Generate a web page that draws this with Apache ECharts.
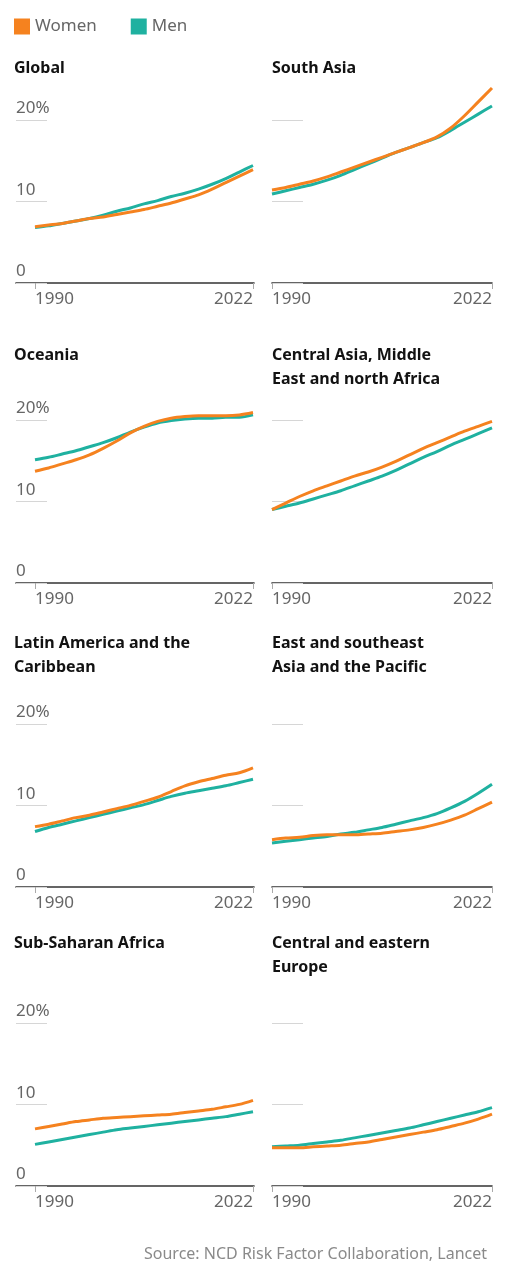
<!DOCTYPE html>
<html>
<head>
<meta charset="utf-8">
<script src="https://cdn.jsdelivr.net/npm/echarts@6/dist/echarts.min.js"></script>
<style>
html,body{margin:0;padding:0;background:#fff;}
#chart{width:508px;height:1280px;}
</style>
</head>
<body>
<div id="chart"></div>
<script>
// ---------- DATA ----------
const years = [1990,1992,1994,1996,1998,2000,2002,2004,2006,2008,2010,2012,2014,2016,2018,2020,2022];
const yTicks = [0, 10, 20];
const xTicks = [1990, 2022];
const seriesNames = ['Women', 'Men'];
const panelTitles = [
  'Global',
  'South Asia',
  'Oceania',
  'Central Asia, Middle\nEast and north Africa',
  'Latin America and the\nCaribbean',
  'East and southeast\nAsia and the Pacific',
  'Sub-Saharan Africa',
  'Central and eastern\nEurope'
];
const globalWomen = [6.9,7.1,7.3,7.6,7.9,8.1,8.4,8.7,9.0,9.4,9.8,10.3,10.8,11.5,12.3,13.1,13.9];
const globalMen   = [6.8,7.0,7.3,7.6,7.9,8.3,8.8,9.2,9.7,10.1,10.6,11.0,11.5,12.1,12.8,13.6,14.4];
const southAsiaWomen = [11.4,11.7,12.1,12.5,13.0,13.6,14.2,14.8,15.4,16.0,16.6,17.2,17.9,19.0,20.5,22.2,23.9];
const southAsiaMen   = [10.9,11.3,11.7,12.1,12.6,13.2,13.9,14.6,15.3,16.0,16.6,17.2,17.8,18.7,19.7,20.7,21.7];
const oceaniaWomen = [13.7,14.1,14.6,15.1,15.7,16.5,17.4,18.4,19.2,19.8,20.2,20.4,20.5,20.5,20.5,20.6,20.9];
const oceaniaMen   = [15.1,15.4,15.8,16.2,16.7,17.2,17.8,18.5,19.1,19.6,19.9,20.1,20.2,20.2,20.3,20.3,20.6];
const menaWomen = [9.0,9.8,10.6,11.3,11.9,12.5,13.1,13.6,14.2,14.9,15.7,16.5,17.2,17.9,18.6,19.2,19.8];
const menaMen   = [9.0,9.4,9.8,10.3,10.8,11.3,11.9,12.5,13.1,13.8,14.6,15.4,16.1,16.9,17.6,18.3,19.0];
const latamWomen = [7.4,7.7,8.1,8.5,8.8,9.2,9.6,10.0,10.5,11.0,11.7,12.4,12.9,13.3,13.7,14.0,14.6];
const latamMen   = [6.8,7.3,7.7,8.1,8.5,8.9,9.3,9.7,10.1,10.6,11.1,11.5,11.8,12.1,12.4,12.8,13.2];
const eastAsiaWomen = [5.8,6.0,6.1,6.3,6.4,6.4,6.4,6.5,6.6,6.8,7.0,7.3,7.7,8.2,8.8,9.6,10.4];
const eastAsiaMen   = [5.4,5.6,5.8,6.0,6.2,6.5,6.7,7.0,7.3,7.7,8.1,8.5,9.0,9.7,10.5,11.5,12.6];
const ssaWomen = [7.0,7.3,7.6,7.9,8.1,8.3,8.4,8.5,8.6,8.7,8.8,9.0,9.2,9.4,9.7,10.0,10.5];
const ssaMen   = [5.1,5.4,5.7,6.0,6.3,6.6,6.9,7.1,7.3,7.5,7.7,7.9,8.1,8.3,8.5,8.8,9.1];
const ceeWomen = [4.7,4.7,4.7,4.8,4.9,5.0,5.2,5.4,5.7,6.0,6.3,6.6,6.9,7.3,7.7,8.2,8.8];
const ceeMen   = [4.8,4.9,5.0,5.2,5.4,5.6,5.9,6.2,6.5,6.8,7.1,7.5,7.9,8.3,8.7,9.1,9.6];
const womenByPanel = [globalWomen, southAsiaWomen, oceaniaWomen, menaWomen, latamWomen, eastAsiaWomen, ssaWomen, ceeWomen];
const menByPanel   = [globalMen, southAsiaMen, oceaniaMen, menaMen, latamMen, eastAsiaMen, ssaMen, ceeMen];
const sourceText = 'Source: NCD Risk Factor Collaboration, Lancet';

// ---------- STYLE / LAYOUT ----------
const FONT = '"Noto Sans", sans-serif';
const ORANGE = '#f5821f';
const TEAL = '#1fb1a0';
const axisBottoms = [283, 583, 887, 1186];
const titleTops = [56, 343, 631, 931];
const GRID_H = 204;
const Y_MAX = 25;

const chart = echarts.init(document.getElementById('chart'), null, {renderer: 'canvas'});

const grids = [], xAxes = [], yAxes = [], series = [], titles = [];
panelTitles.forEach((t, i) => {
  const col = i % 2, row = Math.floor(i / 2);
  const left = col === 0 ? 16 : 272;
  const width = col === 0 ? 238 : 220;
  const xmin = col === 0 ? 1990 - 19 / 6.8125 : 1990;
  const xmax = col === 0 ? 2022 + 1 / 6.8125 : 2022;
  grids.push({left: left, top: axisBottoms[row] - GRID_H, width: width, height: GRID_H, containLabel: false});
  xAxes.push({
    type: 'value', gridIndex: i, min: xmin, max: xmax,
    splitLine: {show: false},
    axisLine: {show: true, lineStyle: {color: '#333', width: 1.6}},
    axisTick: {show: true, customValues: xTicks, length: 6, lineStyle: {color: '#aaa', width: 1}},
    axisLabel: {
      show: true, customValues: xTicks, margin: 8,
      fontSize: 17, color: '#666', fontFamily: FONT,
      alignMinLabel: 'left', alignMaxLabel: 'right',
      formatter: v => String(Math.round(v))
    }
  });
  yAxes.push({
    type: 'value', gridIndex: i, min: 0, max: Y_MAX,
    splitLine: {show: false},
    axisLine: {show: false},
    axisTick: {show: true, inside: true, customValues: yTicks, length: 31, lineStyle: {color: '#d6d6d6', width: 1}},
    axisLabel: {
      show: col === 0, inside: true, customValues: yTicks, margin: 0,
      fontSize: 17, color: '#666', fontFamily: FONT,
      align: 'left', verticalAlign: 'bottom', padding: [0, 0, 3, 0],
      formatter: v => v === 20 ? '20%' : String(v)
    }
  });
  titles.push({
    text: t, left: col === 0 ? 14 : 272, top: titleTops[row], padding: 0,
    textStyle: {fontSize: 16, fontWeight: 'bold', color: '#121212', fontFamily: FONT, lineHeight: 24}
  });
  series.push({
    name: seriesNames[1], type: 'line', xAxisIndex: i, yAxisIndex: i,
    data: years.map((y, k) => [y, menByPanel[i][k]]),
    showSymbol: false, smooth: 0.3,
    lineStyle: {color: TEAL, width: 3}, itemStyle: {color: TEAL}
  });
  series.push({
    name: seriesNames[0], type: 'line', xAxisIndex: i, yAxisIndex: i,
    data: years.map((y, k) => [y, womenByPanel[i][k]]),
    showSymbol: false, smooth: 0.3,
    lineStyle: {color: ORANGE, width: 3}, itemStyle: {color: ORANGE}
  });
});

chart.setOption({
  backgroundColor: '#fff',
  animation: false,
  title: titles,
  legend: {
    data: seriesNames, left: 14, top: 18, padding: 0, icon: 'rect',
    itemWidth: 16, itemHeight: 16, itemGap: 34,
    textStyle: {fontSize: 17, color: '#666', fontFamily: FONT}
  },
  grid: grids,
  xAxis: xAxes,
  yAxis: yAxes,
  series: series,
  graphic: [{
    type: 'text', right: 21, top: 1246,
    style: {text: sourceText, fontSize: 16, fill: '#8a8a8a', fontFamily: FONT}
  }]
});
</script>
</body>
</html>
